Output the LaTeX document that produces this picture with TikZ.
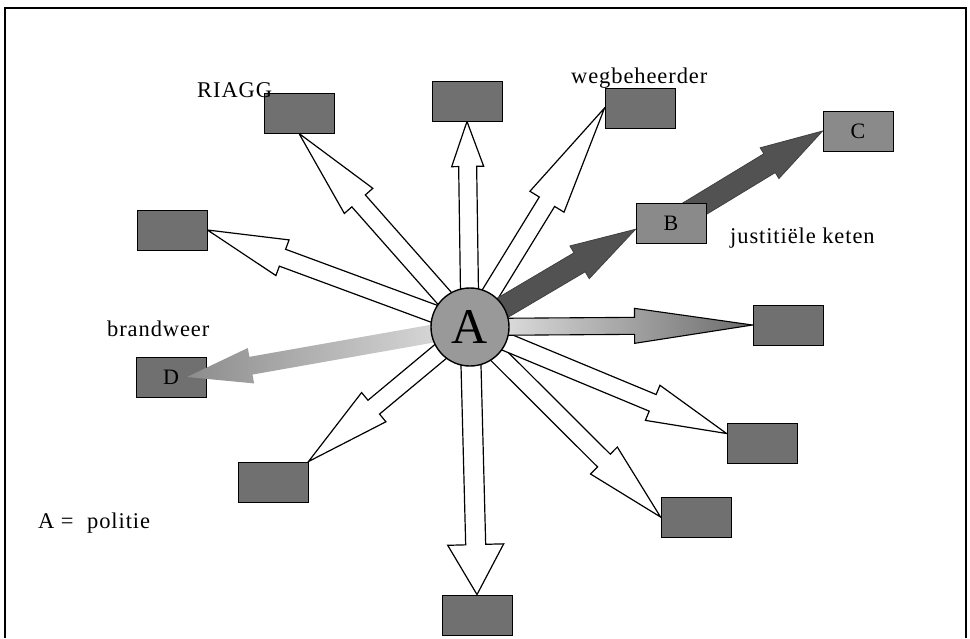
\documentclass[tikz,border=0pt]{standalone}
\usepackage{fontspec}
\setmainfont{Liberation Serif}
\newfontfamily\labelfont[LetterSpace=4]{Liberation Serif}
\usetikzlibrary{calc}
\pgfdeclarelayer{mid}
\pgfdeclarelayer{front}
\pgfsetlayers{mid,main,front}

% block arrow: #1 style, #2 start, #3 tip, #4 shaft half-width, #5 head half-width, #6 head length
\newcommand\blockarrow[6]{%
  \path[#1]
    ($(#2)!#4pt!90:(#3)$)
    -- ($(#3)!#6pt!(#2)!#4pt!-90:(#2)$)
    -- ($(#3)!#6pt!(#2)!#5pt!-90:(#2)$)
    -- (#3)
    -- ($(#3)!#6pt!(#2)!#5pt!90:(#2)$)
    -- ($(#3)!#6pt!(#2)!#4pt!90:(#2)$)
    -- ($(#2)!#4pt!-90:(#3)$)
    -- cycle;}

\begin{document}
\begin{tikzpicture}[x=1pt,y=-1pt,
  box/.style={draw=black, line width=0.9pt, fill=black!56,
    minimum width=70pt, minimum height=40pt, inner sep=0pt,
    font=\fontsize{22}{22}\selectfont},
  lbl/.style={anchor=base west, inner sep=0pt,
    font=\labelfont\fontsize{22.5}{22.5}\selectfont},
  white arrow/.style={draw=black, line width=1.2pt, fill=white, line join=miter},
  dark arrow/.style={draw=black!75, line width=0.8pt, fill=black!68, line join=miter},
]
\useasboundingbox (0,0) rectangle (970,638);

% frame
\draw[line width=1.8pt] (5,638) -- (5,8) -- (966,8) -- (966,638);

% central organisation
\begin{pgfonlayer}{front}
  \node[circle, draw, line width=1.4pt, fill=black!40, minimum size=78pt,
    inner sep=0pt, font=\fontsize{50}{50}\selectfont] (A) at (470,327) {A};
\end{pgfonlayer}

% partner boxes
\node[box] (top)   at (467,101) {};
\node[box] (riagg) at (299,113) {};
\node[box] (weg)   at (640,108) {};
\node[box, fill=black!46] (C) at (858,131) {C};
\node[box, fill=black!46] (B) at (671,223) {B};
\node[box] (lu)    at (172,230) {};
\node[box] (D)     at (171,377) {D};
\node[box] (rm)    at (788,325) {};
\node[box] (rl)    at (762,443) {};
\node[box] (lr)    at (696,517) {};
\node[box] (ll)    at (273,482) {};
\node[box] (bot)   at (477,615) {};

% labels
\node[lbl] (lriagg) at (197,97)  {RIAGG};
\node[lbl] (lweg)   at (571,83)  {wegbeheerder};
\node[lbl] (ljus)   at (730,243) {justitiële keten};
\node[lbl] (lbrand) at (107,336) {brandweer};
\node[lbl] (lpol)   at (38,528)  {A =\hspace{0.6em}politie};

% connections
\begin{pgfonlayer}{mid}
  \blockarrow{white arrow}{A.center}{top.south}{9}{16}{45}
  \blockarrow{white arrow}{A.center}{riagg.south}{9}{19}{90}
  \blockarrow{white arrow}{A.center}{weg.west}{9}{20}{110}
  \blockarrow{white arrow}{A.center}{lu.east}{9}{19}{80}
  \blockarrow{white arrow}{A.center}{ll.north east}{9}{19}{85}
  \blockarrow{white arrow}{A.center}{bot.north}{10}{28}{50}
  \blockarrow{white arrow}{A.center}{lr.west}{9}{19}{80}
  \blockarrow{white arrow}{A.center}{rl.165}{9}{19}{80}
  \blockarrow{draw=black, line width=1.1pt, left color=black!8, right color=black!58}{A.center}{rm.west}{8.5}{17.5}{118}
  \blockarrow{dark arrow}{A.center}{B.190}{11}{19}{65}
  \blockarrow{dark arrow}{B.center}{C.west}{11}{18}{62}
\end{pgfonlayer}
\blockarrow{left color=black!45, right color=black!12}{A.center}{$(D.center)!0.45!(D.east)$}{9}{18}{65}

\end{tikzpicture}
\end{document}
